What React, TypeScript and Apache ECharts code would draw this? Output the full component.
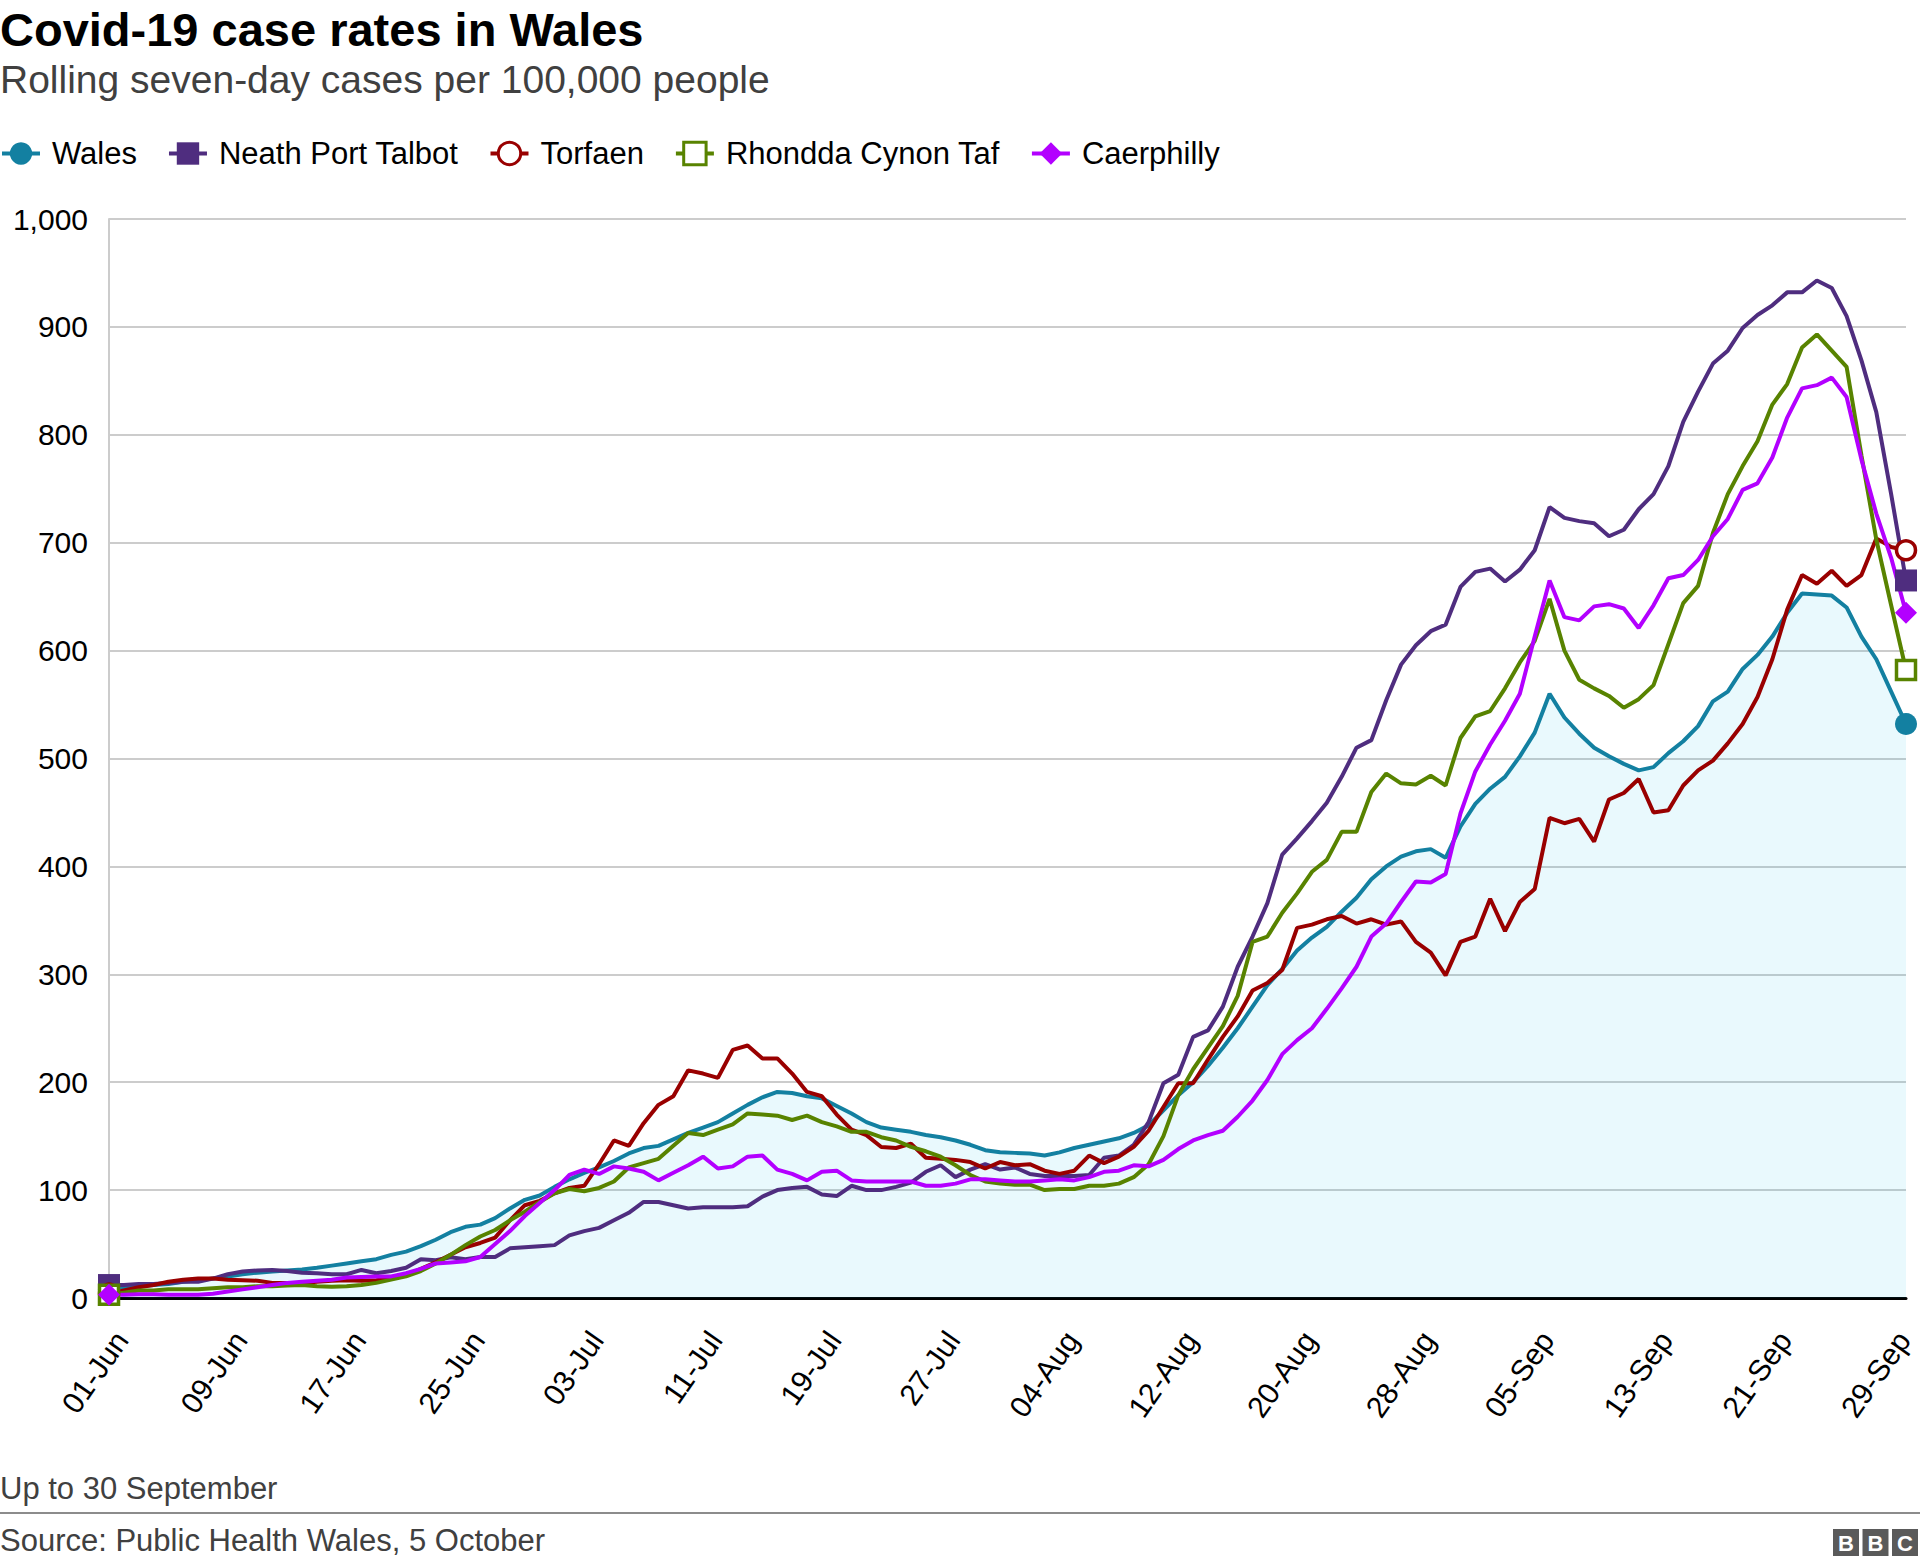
import React, { useEffect, useRef } from "react";
import * as echarts from "echarts";

// ---------- DATA ----------
const MONTHS: [string, number][] = [
  ["Jun", 30],
  ["Jul", 31],
  ["Aug", 31],
  ["Sep", 30],
];
const CATEGORIES: string[] = MONTHS.flatMap(([m, n]) =>
  Array.from({ length: n }, (_, i) => `${String(i + 1).padStart(2, "0")}-${m}`)
);

const Y_MIN = 0;
const Y_MAX = 1000;
const Y_STEP = 100;
const X_LABEL_EVERY = 8;

const WALES = [
  8, 10, 11, 12, 13, 15, 16.5, 18, 20, 22,
  23.5, 24.5, 25.5, 26.5, 28, 30, 32, 34, 36, 40,
  43, 48, 54, 61, 66, 68, 74, 83, 91, 95,
  103, 110, 116, 121, 127, 134, 139, 141, 147, 153,
  158, 163, 171, 179, 186, 191, 190, 187, 185, 178,
  171, 163, 158, 156, 154, 151, 149, 146, 142, 137,
  135, 134.5, 134, 132, 135, 139, 142, 145, 148, 153,
  160, 174, 188, 200, 215, 232, 250, 270, 290, 305,
  322, 334, 344, 358, 371, 388, 400, 409, 414, 416,
  408, 437, 458, 472, 483, 502, 524, 560, 538, 523,
  510, 502, 495, 489, 492, 505, 516, 530, 553, 562,
  583, 596, 613, 635, 653, 652, 651, 640, 613, 592,
  562, 532,
];

const NEATH_PORT_TALBOT = [
  12, 12, 13, 13, 14, 15, 15, 18, 22, 24.5,
  25.5, 26, 25, 23.5, 23, 22, 22, 26, 23, 25,
  28, 36, 35, 37.7, 36, 38, 38, 46, 47, 48,
  49, 58, 62, 65, 72, 79, 89, 89, 86, 83,
  84, 84, 84, 85, 94, 100, 102, 103, 96, 94.5,
  104, 100, 100, 103, 107, 117, 123, 112, 119, 124,
  119, 121, 115, 113, 113, 113, 114, 130, 132, 142,
  163, 199, 207, 242, 248, 270, 307, 335, 366, 411,
  426, 442, 459, 483, 510, 517, 554, 587, 605, 618,
  624, 659, 673, 676, 664, 675, 693, 733, 723, 720,
  718, 706, 712, 731, 745, 771, 812, 840, 866, 878,
  899, 911, 920, 932, 932, 943, 936, 910, 869, 821,
  745, 665,
];

const TORFAEN = [
  4, 7, 10, 12, 15, 17, 18, 18, 17, 16.5,
  16, 14, 14, 14, 15, 16, 16.5, 16, 16.5, 18,
  21, 27, 33, 40, 47, 51, 56, 72, 86, 90,
  97, 102, 104, 124, 146, 141, 162, 179, 187, 211,
  208, 204, 230, 234, 222, 222, 208, 191, 187, 170,
  156, 151, 140, 139, 143, 130, 129, 128, 126, 120,
  126, 123, 124, 118, 115, 118, 132, 125, 131, 140,
  155, 177, 199, 199, 221, 242, 261, 285, 292, 304,
  343, 346, 351, 354, 347, 351, 346, 349, 330, 320,
  299, 330, 335, 370, 340, 367, 379, 445, 440, 444,
  423, 462, 468, 481, 450, 452, 475, 489, 498, 514,
  532, 557, 592, 638, 670, 662, 674, 660, 670, 704,
  696, 693,
];

const RHONDDA_CYNON_TAF = [
  3, 5, 7, 7, 8, 8, 8, 9, 10, 10,
  11, 11, 11.5, 12, 11, 10.5, 11, 12, 14, 17,
  20, 25, 32, 40, 49, 57, 63, 72, 80, 89,
  97, 101, 99, 102, 108, 121, 125, 129, 141, 153,
  151, 156, 161, 171, 170, 169, 165, 169, 163, 159,
  154, 154, 149, 146, 140, 136, 131, 123, 114, 108,
  106, 105, 105, 100, 101, 101, 104, 104, 106, 112,
  124, 150, 188, 212, 232, 252, 280, 330, 335, 357,
  375, 395, 406, 432, 432, 469, 486, 477, 476, 484,
  475, 519, 539, 544, 565, 589, 609, 648, 600, 573,
  565, 558, 547, 555, 568, 606, 644, 660, 709, 745,
  771, 794, 828, 847, 881, 893, 878, 863, 781, 703,
  642, 582,
];

const CAERPHILLY = [
  3, 3, 3.5, 3.5, 3, 3, 3, 4, 6, 8,
  10, 12, 14, 15, 16, 17, 19, 19.5, 20, 20,
  23, 27, 32, 33, 34, 38, 50, 62, 76, 88,
  100, 114, 119, 115, 122, 120, 117, 109, 116, 123,
  131, 120, 122, 131, 132, 119, 115, 109, 117, 118,
  109, 108, 108, 108, 108, 104, 104, 106, 110, 110,
  109, 108, 108, 109, 110, 109, 112, 117, 118, 123,
  122, 128, 138, 146, 151, 155, 168, 183, 202, 226,
  239, 250, 268, 287, 307, 335, 347, 367, 386, 385,
  393, 449, 488, 513, 535, 560, 613, 665, 631, 628,
  641, 643, 639, 621, 642, 667, 670, 684, 706, 722,
  749, 755, 779, 816, 843, 846, 853, 835, 777, 727,
  686, 635,
];

const SERIES_DEFS = [
  { name: "Wales", color: "#1380a1", symbol: "circle", hollow: false, data: WALES, area: true },
  { name: "Neath Port Talbot", color: "#4f2d7f", symbol: "rect", hollow: false, data: NEATH_PORT_TALBOT, area: false },
  { name: "Torfaen", color: "#990000", symbol: "circle", hollow: true, data: TORFAEN, area: false },
  { name: "Rhondda Cynon Taf", color: "#588300", symbol: "rect", hollow: true, data: RHONDDA_CYNON_TAF, area: false },
  { name: "Caerphilly", color: "#b300ff", symbol: "diamond", hollow: false, data: CAERPHILLY, area: false },
];

const TITLE = "Covid-19 case rates in Wales";
const SUBTITLE = "Rolling seven-day cases per 100,000 people";
const NOTE = "Up to 30 September";
const SOURCE = "Source: Public Health Wales, 5 October";

const FONT = '"Liberation Sans", Arial, Helvetica, sans-serif';

function buildOption() {
  const series = SERIES_DEFS.map((s) => {
    const last = s.data.length - 1;
    return {
      type: "line",
      name: s.name,
      symbol: s.symbol,
      symbolSize: s.hollow ? 19 : 22,
      showSymbol: true,
      showAllSymbol: true,
      data: s.data.map((v, i) =>
        i === 0 || i === last ? { value: v } : { value: v, symbol: "none" }
      ),
      lineStyle: { color: s.color, width: 4 },
      itemStyle: s.hollow
        ? { color: "#ffffff", borderColor: s.color, borderWidth: 3.5 }
        : { color: s.color },
      areaStyle: s.area ? { color: "rgba(0,190,235,0.085)", opacity: 1 } : undefined,
      emphasis: { disabled: true },
      silent: true,
    };
  });

  const bbc = ["B", "B", "C"].map((ch, i) => ({
    type: "group",
    x: 1833 + i * 29.5,
    y: 1529,
    children: [
      { type: "rect", shape: { x: 0, y: 0, width: 26, height: 27 }, style: { fill: "#5a5a5a" } },
      {
        type: "text",
        x: 13,
        y: 14,
        style: {
          text: ch,
          font: `bold 22px ${FONT}`,
          fill: "#ffffff",
          textAlign: "center",
          textVerticalAlign: "middle",
        },
      },
    ],
  }));

  return {
    animation: false,
    backgroundColor: "#ffffff",
    textStyle: { fontFamily: FONT },
    grid: { left: 109, right: 14, top: 219, bottom: 269, containLabel: false },
    legend: {
      left: 0,
      top: 138,
      padding: 0,
      itemWidth: 38,
      itemHeight: 28,
      itemGap: 30,
      selectedMode: false,
      lineStyle: { width: 4 },
      textStyle: { fontSize: 31, color: "#000000", fontFamily: FONT, padding: [0, 0, 0, 7] },
      data: SERIES_DEFS.map((s) =>
        s.hollow
          ? {
              name: s.name,
              itemStyle: { color: "#ffffff", borderColor: s.color, borderWidth: 3 },
              lineStyle: { color: s.color, width: 4 },
            }
          : { name: s.name }
      ),
    },
    xAxis: {
      type: "category",
      data: CATEGORIES,
      boundaryGap: false,
      axisLine: { show: true, lineStyle: { color: "#000000", width: 3 } },
      axisTick: { show: false },
      splitLine: { show: false },
      axisLabel: {
        interval: X_LABEL_EVERY - 1,
        rotate: 55,
        fontSize: 30,
        color: "#000000",
        margin: 28,
        verticalAlign: "top",
        fontFamily: FONT,
      },
    },
    yAxis: {
      type: "value",
      min: Y_MIN,
      max: Y_MAX,
      interval: Y_STEP,
      axisLine: { show: true, lineStyle: { color: "#cccccc", width: 2 } },
      axisTick: { show: false },
      splitLine: { show: true, lineStyle: { color: "#cccccc", width: 2 } },
      axisLabel: {
        fontSize: 30,
        color: "#000000",
        margin: 21,
        fontFamily: FONT,
        formatter: (v: number) => v.toLocaleString("en-US"),
      },
    },
    series,
    graphic: [
      {
        type: "text",
        left: 0,
        top: 6,
        style: { text: TITLE, font: `bold 47px ${FONT}`, fill: "#000000" },
      },
      {
        type: "text",
        left: 0,
        top: 60,
        style: { text: SUBTITLE, font: `39px ${FONT}`, fill: "#404040" },
      },
      {
        type: "text",
        left: 0,
        top: 1473,
        style: { text: NOTE, font: `31px ${FONT}`, fill: "#404040" },
      },
      {
        type: "rect",
        left: 0,
        top: 1512,
        shape: { x: 0, y: 0, width: 1920, height: 2 },
        style: { fill: "#8c8c8c" },
      },
      {
        type: "text",
        left: 0,
        top: 1525,
        style: { text: SOURCE, font: `31px ${FONT}`, fill: "#404040" },
      },
      ...bbc,
    ],
  };
}

export default function App() {
  const ref = useRef<HTMLDivElement>(null);
  useEffect(() => {
    document.body.style.margin = "0";
    const chart = echarts.init(ref.current as HTMLDivElement, null, { renderer: "svg" });
    chart.setOption(buildOption() as any);
    return () => {
      chart.dispose();
    };
  }, []);
  return <div ref={ref} style={{ width: 1920, height: 1567 }} />;
}
